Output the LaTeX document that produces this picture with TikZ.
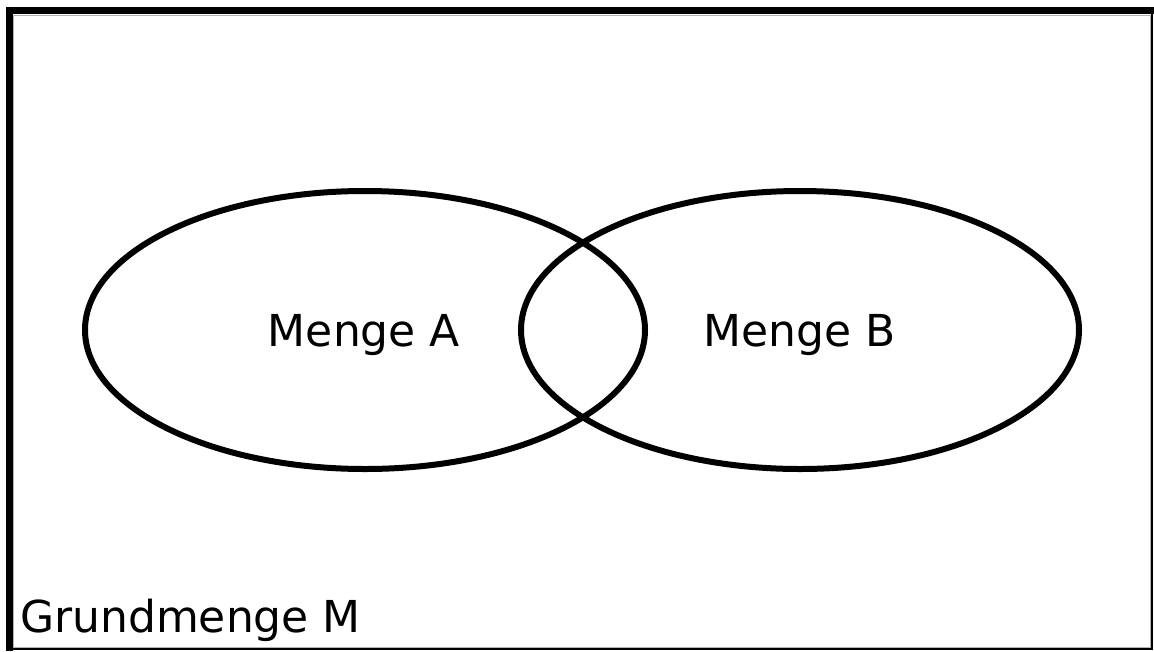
\documentclass[tikz,border=0pt]{standalone}
\usepackage{fontspec}
\setmainfont{DejaVu Sans}
\begin{document}
\begin{tikzpicture}[x=1pt,y=-1pt,
  setline/.style={line width=6pt},
  label/.style={font=\fontsize{44}{50}\selectfont, inner sep=0pt, anchor=base}]
\useasboundingbox (0,0) rectangle (1154,651);
\fill[white] (0,0) rectangle (1154,651);
% universe frame: heavy top and left edges, thin right and bottom edges
\draw[gray!60, line width=1pt] (13.5,15) -- (1150.5,15) -- (1150.5,647.5) -- (13.5,647.5) -- cycle;
\draw[line width=2pt] (9,649) -- (1152,649) -- (1152,10);
\draw[line width=7pt] (9.5,651) -- (9.5,10.5) -- (1154,10.5);
% the two sets
\draw[setline] (365,330) ellipse [x radius=280, y radius=139];
\draw[setline] (800,330) ellipse [x radius=279, y radius=139];
\node[label] (a) at (364,346) {Menge A};
\node[label] (b) at (800,346) {Menge B};
\node[label, anchor=base west] (m) at (20,632) {Grundmenge M};
\end{tikzpicture}
\end{document}
